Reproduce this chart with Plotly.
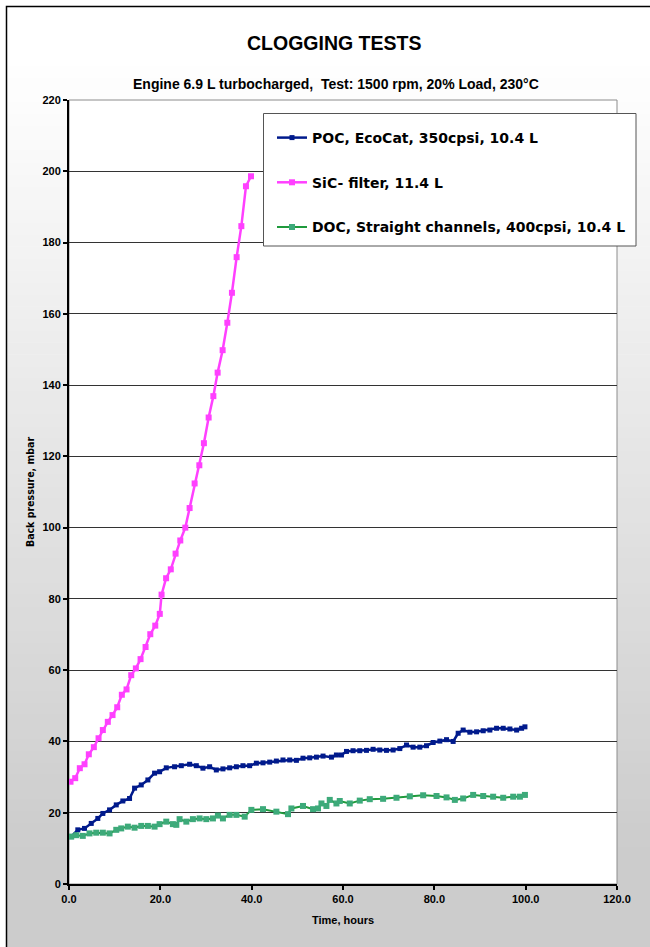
import plotly.graph_objects as go

# ---------------- data ----------------
poc_hours = [0.48, 1.93, 3.40, 4.87, 6.31, 7.41, 8.88, 10.35, 11.79, 13.26, 14.36, 15.82, 17.27, 18.74,
             19.84, 21.30, 23.12, 24.59, 26.41, 27.88, 29.33, 30.79, 32.26, 33.71, 35.18, 36.65, 38.09,
             39.56, 41.03, 42.48, 43.95, 45.41, 46.86, 48.33, 49.80, 51.24, 52.71, 54.18, 55.63, 57.47,
             58.56, 59.66, 60.76, 62.20, 63.67, 65.14, 66.59, 68.05, 69.52, 70.97, 72.44, 73.91, 75.35,
             76.82, 78.29, 79.74, 81.21, 82.67, 84.12, 85.22, 86.31, 87.78, 89.25, 90.70, 92.16, 93.63,
             95.08, 96.55, 98.02, 99.11, 99.84]
poc_mbar = [13.3, 15.2, 15.6, 17.0, 18.4, 19.8, 20.8, 22.2, 23.3, 24.0, 26.9, 27.8, 29.2, 31.1,
            31.5, 32.6, 32.9, 33.2, 33.6, 33.2, 32.5, 32.9, 32.0, 32.3, 32.6, 32.9, 33.2,
            33.2, 33.9, 34.0, 34.2, 34.5, 34.8, 34.8, 34.7, 35.3, 35.4, 35.6, 35.9, 35.6,
            36.2, 36.2, 37.2, 37.4, 37.4, 37.5, 37.8, 37.6, 37.5, 37.6, 38.0, 39.0, 38.4,
            38.4, 38.8, 39.7, 40.1, 40.5, 40.0, 42.3, 43.2, 42.6, 42.7, 43.0, 43.2, 43.7,
            43.7, 43.5, 43.2, 43.7, 44.1]

sic_hours = [0.33, 1.36, 2.37, 3.40, 4.34, 5.44, 6.47, 7.41, 8.50, 9.53, 10.56, 11.57, 12.60, 13.63,
             14.64, 15.67, 16.77, 17.80, 18.89, 19.88, 20.27, 21.26, 22.29, 23.34, 24.37, 25.47, 26.41,
             27.51, 28.54, 29.54, 30.58, 31.61, 32.55, 33.64, 34.67, 35.68, 36.71, 37.74, 38.75, 39.85]
sic_mbar = [28.7, 29.7, 32.5, 33.6, 36.4, 38.4, 40.9, 43.2, 45.5, 47.4, 49.6, 53.1, 54.6, 58.6,
            60.5, 63.1, 66.5, 70.1, 72.5, 75.8, 81.2, 85.8, 88.3, 92.7, 96.4, 100.0, 105.5,
            112.4, 117.5, 123.7, 130.9, 136.9, 143.5, 149.8, 157.5, 165.9, 175.9, 184.6, 195.8, 198.6]

doc_hours = [0.48, 1.58, 3.02, 4.49, 5.96, 7.41, 8.88, 10.35, 11.44, 12.89, 14.36, 15.82, 17.27, 18.74,
             19.84, 21.30, 22.75, 23.50, 24.22, 25.69, 27.13, 28.60, 30.07, 31.52, 32.61, 33.71, 35.18,
             36.65, 38.47, 39.93, 42.48, 45.41, 47.96, 48.70, 51.24, 53.44, 54.53, 55.28, 56.37, 57.10,
             58.56, 59.29, 61.48, 63.67, 65.86, 68.78, 71.71, 74.63, 77.55, 80.48, 82.67, 84.49, 86.31,
             88.50, 90.70, 92.88, 95.08, 97.27, 98.74, 99.84]
doc_mbar = [13.3, 13.7, 13.5, 14.2, 14.4, 14.4, 14.2, 15.2, 15.6, 16.1, 15.8, 16.3, 16.3, 16.1,
            16.8, 17.5, 16.8, 16.6, 18.2, 17.5, 18.2, 18.4, 18.2, 18.4, 19.2, 18.4, 19.4,
            19.4, 18.9, 20.8, 21.0, 20.3, 19.6, 21.2, 21.9, 21.0, 21.2, 22.6, 21.9, 23.6,
            22.6, 23.3, 22.6, 23.4, 23.8, 23.9, 24.2, 24.6, 24.9, 24.7, 24.3, 23.6, 24.0,
            25.0, 24.7, 24.5, 24.2, 24.5, 24.5, 25.0]

series_names = ["POC, EcoCat, 350cpsi, 10.4 L",
                "SiC- filter, 11.4 L",
                "DOC, Straight channels, 400cpsi, 10.4 L"]
y_ticks = [0, 20, 40, 60, 80, 100, 120, 140, 160, 180, 200, 220]
x_ticks = [0, 20, 40, 60, 80, 100, 120]

title_text = "CLOGGING TESTS"
subtitle_text = "Engine 6.9 L turbocharged,  Test: 1500 rpm, 20% Load, 230°C"
x_title = "Time, hours"
y_title = "Back pressure, mbar"

# ---------------- layout geometry (page pixels) ----------------
W, H = 650, 947
PL, PT, PW, PH = 69, 100, 548, 784     # plot area on the page
L, T = PL, PT
R, B = W - L - PW, H - T - PH


def px(p):
    return (p - L) / PW


def py(p):
    return (T + PH - p) / PH


FONT = "Liberation Sans, Arial, sans-serif"
COND = "DejaVu Sans Condensed, Liberation Sans, sans-serif"

fig = go.Figure()
fig.add_trace(go.Scatter(x=poc_hours, y=poc_mbar, name=series_names[0], mode="lines+markers",
                         legendgroup="a",
                         line=dict(color="#001a8c", width=2.5),
                         marker=dict(symbol="square", size=5, color="#001a8c")))
fig.add_trace(go.Scatter(x=sic_hours, y=sic_mbar, name=series_names[1], mode="lines+markers",
                         legendgroup="b",
                         line=dict(color="#ff40ff", width=2.5),
                         marker=dict(symbol="square", size=6, color="#ff40ff")))
fig.add_trace(go.Scatter(x=doc_hours, y=doc_mbar, name=series_names[2], mode="lines+markers",
                         legendgroup="c",
                         line=dict(color="#1f9a3c", width=2),
                         marker=dict(symbol="square", size=6, color="#3daa7a")))

shapes = []
# gradient background bands
top_px, bot_px = 6, H + 20
n = 80
for i in range(n):
    y0 = top_px + (bot_px - top_px) * i / n
    y1 = top_px + (bot_px - top_px) * (i + 1) / n
    ym = (y0 + y1) / 2
    t = min(max((ym - 60) / (850 - 60), 0), 1)
    g = int(round(255 - t * (255 - 204)))
    shapes.append(dict(type="rect", xref="paper", yref="paper", x0=px(6), x1=px(W + 20),
                       y0=py(y1 + 0.5), y1=py(y0), fillcolor=f"rgb({g},{g},{g})",
                       line=dict(width=0), layer="below"))
# plot area white
shapes.append(dict(type="rect", xref="x domain", yref="y domain", x0=0, x1=1, y0=0, y1=1,
                   fillcolor="white", line=dict(width=0), layer="below"))
# plot frame (gray top/right)
shapes.append(dict(type="rect", xref="x domain", yref="y domain", x0=0, x1=1, y0=0, y1=1,
                   fillcolor="rgba(0,0,0,0)", line=dict(color="#8c8c8c", width=1), layer="below"))
# outer border
shapes.append(dict(type="rect", xref="paper", yref="paper", x0=px(6.5), x1=px(W + 40),
                   y0=py(H + 40), y1=py(6.5), fillcolor="rgba(0,0,0,0)",
                   line=dict(color="black", width=1.5), layer="below"))
# legend box
shapes.append(dict(type="rect", xref="paper", yref="paper", x0=px(263.5), x1=px(636),
                   y0=py(246), y1=py(113.5), fillcolor="white",
                   line=dict(color="#555555", width=1), layer="above"))

annotations = [
    dict(text=f"<b>{title_text}</b>", x=px(333.5), y=py(43), xref="paper", yref="paper",
         showarrow=False, font=dict(size=19.5, color="black", family=FONT), xanchor="center",
         yanchor="middle"),
    dict(text=f"<b>{subtitle_text}</b>", x=px(335.5), y=py(84), xref="paper", yref="paper",
         showarrow=False, font=dict(size=14, color="black", family=FONT), xanchor="center",
         yanchor="middle"),
]

fig.update_layout(
    width=W, height=H,
    margin=dict(l=L, r=R, t=T, b=B, pad=0),
    paper_bgcolor="white",
    plot_bgcolor="white",
    font=dict(family=FONT, color="black", size=11, weight="bold"),
    shapes=shapes,
    annotations=annotations,
    showlegend=True,
    legend=dict(x=px(272), y=py(122), xanchor="left", yanchor="top",
                bgcolor="rgba(0,0,0,0)", borderwidth=0, tracegroupgap=23.5,
                font=dict(size=14, family="DejaVu Sans, " + FONT, color="black", weight="bold")),
    xaxis=dict(range=[0, 120], tickvals=x_ticks, tickformat=".1f", showgrid=False,
               showline=True, linecolor="black", linewidth=2, ticks="outside", ticklen=4,
               tickwidth=2, tickcolor="black", zeroline=False,
               tickfont=dict(size=11, family=FONT, weight="bold"),
               title=dict(text=x_title, font=dict(size=11, family=FONT, weight="bold"), standoff=12)),
    yaxis=dict(range=[0, 220], tickvals=y_ticks, showgrid=True, gridcolor="#333333", gridwidth=1,
               showline=True, linecolor="black", linewidth=2, ticks="outside", ticklen=4,
               tickwidth=2, tickcolor="black", zeroline=False,
               tickfont=dict(size=11, family=FONT, weight="bold"),
               title=dict(text=y_title, font=dict(size=10.5, family=COND, weight="bold"), standoff=6)),
)

fig.write_html("out.html", config={"displayModeBar": False},
               post_script="document.body.style.margin='0';document.body.style.overflow='hidden';")
